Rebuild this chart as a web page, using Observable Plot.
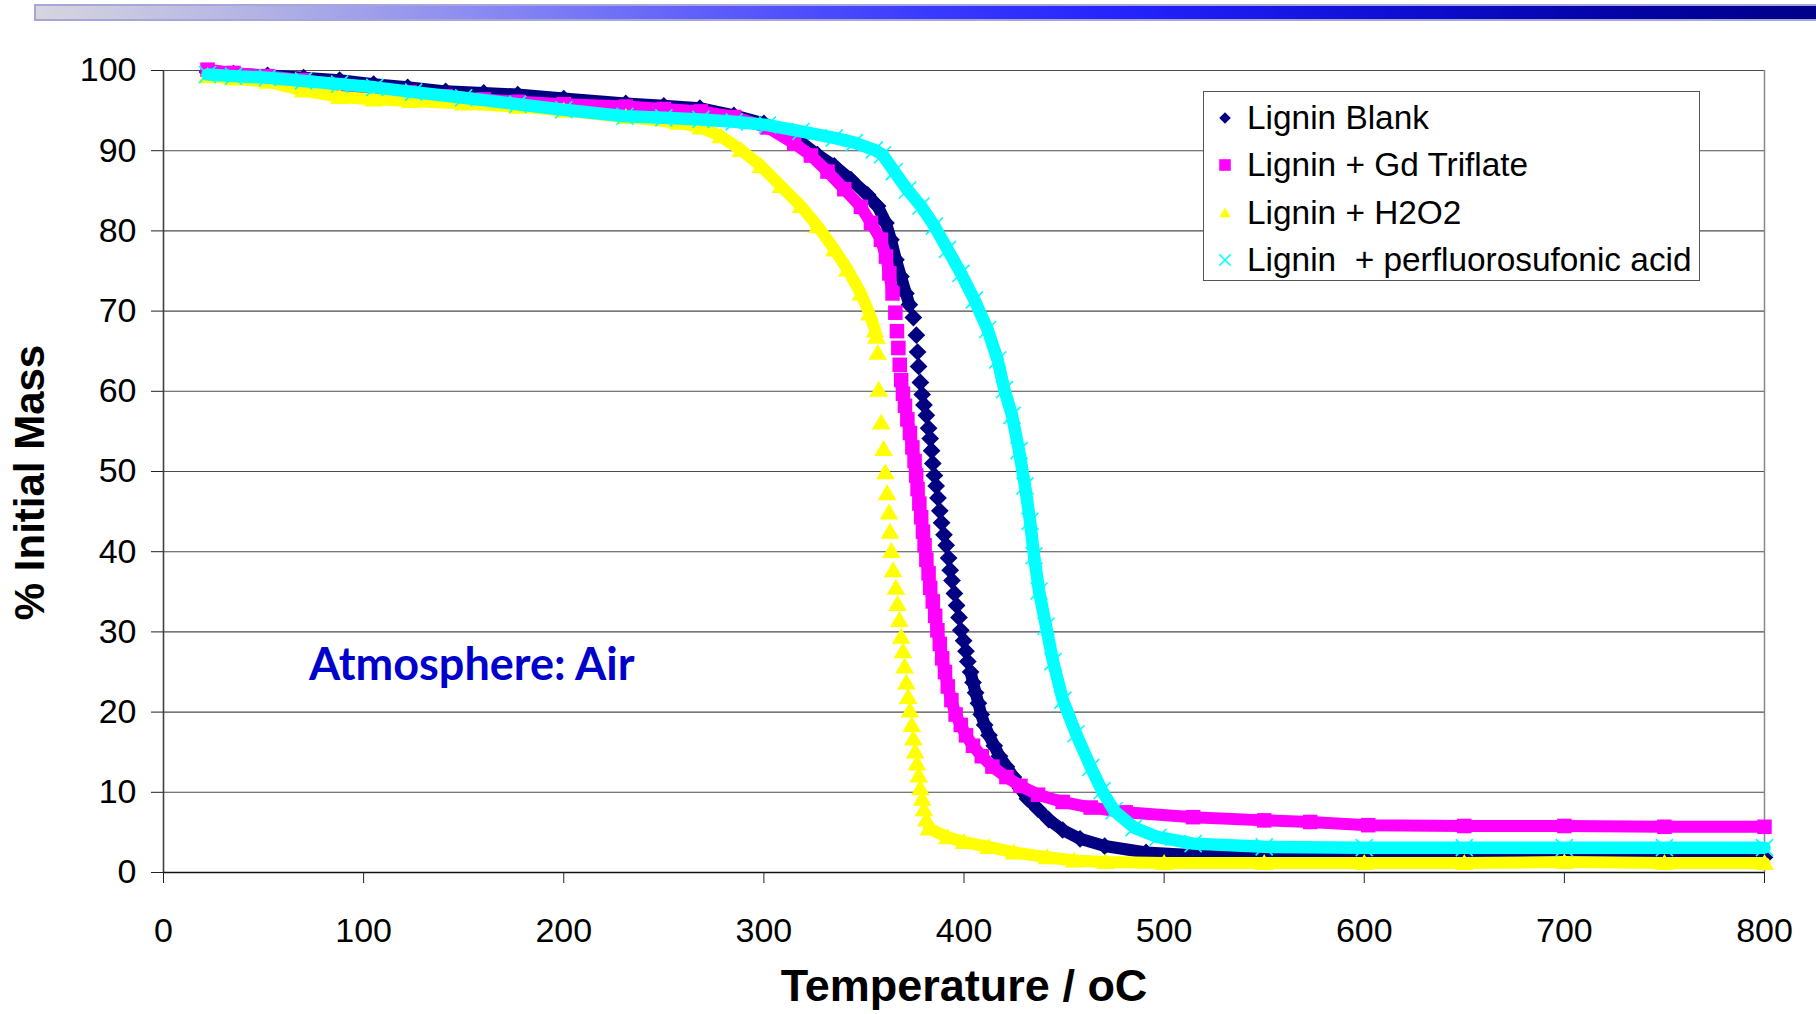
<!DOCTYPE html>
<html>
<head>
<meta charset="utf-8">
<script src="https://cdn.jsdelivr.net/npm/d3@7"></script>
<script src="https://cdn.jsdelivr.net/npm/@observablehq/plot@0.6"></script>
<style>
  html, body { margin: 0; padding: 0; background: #fff; }
  #wrap { position: relative; width: 1816px; height: 1014px; overflow: hidden; font-family: "Liberation Sans", Arial, sans-serif; }
  #bar { position: absolute; left: 34px; right: 0; top: 4px; height: 13px;
         border: 2px solid #a6a6da; border-right: none;
         background: linear-gradient(to right, #d6d6de 0%, #b4b4e4 12%, #8a8af2 25%, #6060fa 37%, #3a3aff 50%, #2222fa 62%, #1010d8 75%, #0404a8 88%, #000088 100%); }
  #legend { position: absolute; left: 1203px; top: 91px; width: 495px; height: 188px; border: 1px solid #555; background: #fff; }
  .row { position: absolute; left: 0; width: 495px; height: 47.3px; line-height: 47.3px; font-size: 33.4px; white-space: pre; color: #000; }
  .row svg { position: absolute; left: 7px; top: 10px; }
  .row span { position: absolute; left: 43px; top: 0; }
</style>
</head>
<body>
<div id="wrap">
  <div id="chart"></div>
  <div id="bar"></div>
  <div id="legend"></div>
</div>
<script>
// ---------------- data ----------------
const xTicks = [0, 100, 200, 300, 400, 500, 600, 700, 800];
const yTicks = [0, 10, 20, 30, 40, 50, 60, 70, 80, 90, 100];
const seriesNames = ["Lignin Blank", "Lignin + Gd Triflate", "Lignin + H2O2", "Lignin  + perfluorosufonic acid"];
const xTitle = "Temperature / oC";
const yTitle = "% Initial Mass";
const annotation = [{text: "Atmosphere: Air", T: 154, M: 24}];

// Lignin Blank  [temperature °C, % initial mass]
const blankHead = [[22,99.8],[35,99.6],[52,99.4],[70,99.1],[88,98.8],[105,98.3],[122,97.9],[141,97.4],[160,97.2],[177,97.0],[200,96.5],[231,95.9],[250,95.6],[268,95.3],[285,94.4],[300,93.4],[310,92.4],[318.5,91.1],[326.8,89.5],[335.2,88.1],[343.5,86.4],[351.8,84.5],[356.8,83.1],[361,81.0],[363.5,78.9],[366,76.4],[368.5,74.3],[371,72.2],[372.7,70.8]];
const blankDrop = [[374.7,69.2],[376.2,67.0],[376.8,64.9],[377.3,63.1],[378.2,61.1],[379.1,59.6],[380,58.3],[381.2,57.0],[382.3,55.4],[383.1,54.1],[383.8,52.6],[384.4,51.0],[385.2,49.5],[386.1,48.2],[387,46.7],[387.9,45.1],[388.8,43.6],[390,42.1],[391.1,40.8],[392.3,39.2],[393.1,37.7],[394,36.4],[395.2,34.8],[396.3,33.3],[397.5,31.8],[398.4,30.2],[399.8,28.9],[401,27.6],[401.9,26.3]];
const blankTail = [[403.3,25.0],[404.5,23.7],[405.8,22.4],[407.2,21.1],[408.6,19.7],[410.3,18.4],[412.5,17.1],[415.1,15.8],[417.7,14.5],[421.2,13.2],[424.7,11.9],[428.2,10.5],[431.7,9.2],[437,7.9],[442.3,6.6],[449.3,5.3],[458,4.2],[470.3,3.3],[491,2.5],[520,2.1],[560,2.0],[600,2.0],[650,2.0],[700,2.0],[750,2.0],[800,1.9]];

// Lignin + Gd Triflate
const gdHead = [[22,100.1],[35,99.7],[52,99.3],[70,98.8],[88,98.2],[105,97.7],[123,97.3],[141,96.8],[160,96.4],[177,96.1],[200,95.8],[231,95.5],[250,95.2],[268.5,94.9],[285.2,94.2],[301.8,92.9],[315.2,90.9],[323.5,89.4],[331.8,87.4],[340.2,85.2],[348.5,83.0],[353.5,81.0],[358.5,78.9],[361,76.8],[362.7,74.7],[364.3,72.2]];
const gdDrop = [[365.7,69.8],[366.5,67.5],[367.2,65.4],[367.9,63.3],[368.6,61.4],[369.5,59.7],[370.5,58.2]];
const gdTail = [[371.7,56.5],[373,54.8],[374.2,53.0],[375.3,51.3],[376.1,49.5],[376.8,47.8],[377.7,46.0],[378.6,44.3],[379.5,42.5],[380.3,40.8],[381.2,39.0],[382.3,37.3],[383.1,35.5],[384.4,33.8],[385.6,32.0],[386.7,30.2],[387.9,28.5],[389.1,26.7],[390.5,25.0],[391.9,23.2],[393.7,21.5],[395.8,19.7],[398.4,18.4],[401,17.1],[404.5,15.8],[408.9,14.5],[414.2,13.2],[421.2,11.9],[428.2,10.8],[437,9.7],[449.3,8.8],[463.3,8.1],[480.8,7.5],[514.5,6.9],[550,6.5],[573,6.3],[602,5.9],[650,5.8],[700,5.8],[750,5.7],[800,5.7]];

// Lignin + H2O2
const h2o2Head = [[22,99.3],[35,99.0],[52,98.6],[70,97.5],[88,96.7],[105,96.4],[123.5,96.2],[150,95.9],[177,95.5],[200,95.0],[231,94.2],[257,93.5],[268.5,92.9],[278.5,91.8],[288.5,90.1],[298.5,88.1],[308.5,85.6],[318.5,83.1],[326.8,80.6],[335.2,77.7],[341.8,75.2],[348.5,72.2],[352.7,69.7],[355.6,67.6]];
const h2o2Drop = [[356.3,66.8],[356.9,64.8],[357.4,60.2],[358.6,56.1],[359.8,52.8],[360.7,49.9],[361.6,47.3],[362.5,44.9],[363,42.5],[363.7,40.1],[364.6,37.7],[366,35.5],[366.8,33.5],[367.7,31.5],[368.6,29.4],[369.5,27.6],[370.3,25.7],[371.2,23.7],[372.1,21.9],[373,20.2],[373.9,18.4],[374.7,16.7],[375.6,15.1],[376.5,13.6],[377.4,12.1],[378.2,10.5],[379.1,9.2],[380,7.9],[381.2,6.6]];
const h2o2Tail = [[382.5,5.5],[391.8,4.4],[400,3.8],[412.3,3.2],[425,2.5],[441.5,1.9],[455,1.5],[470.7,1.3],[500,1.2],[550,1.2],[600,1.2],[650,1.2],[700,1.3],[750,1.2],[800,1.2]];

// Lignin + perfluorosulfonic acid
const pfsaCurve = [[22,99.5],[35,99.3],[52,99.1],[70,98.7],[88,98.3],[105.6,97.9],[125,97.3],[150,96.6],[177,95.8],[200,95.1],[230.6,94.3],[250,94.1],[268.5,93.9],[285.2,93.6],[301.8,93.2],[318.5,92.4],[335.2,91.6],[345.2,91.0],[355.2,90.1],[359.3,89.5],[365.2,87.4],[371.8,85.1],[378.5,83.1],[385.2,80.6],[391.8,77.7],[398.5,74.7],[405.2,71.4],[411.8,67.7],[416.8,63.9],[420.2,60.2],[424,57.0],[427.5,52.6],[430.5,48.2],[433,43.8],[435,39.5],[437.5,35.1],[441,30.7],[444.5,26.3],[449.4,21.5],[456,17.3],[463.4,13.1],[469,10.2],[475,7.7],[485,5.6],[497,4.4],[514.5,3.6],[550,3.2],[600,3.1],[650,3.1],[700,3.1],[750,3.1],[800,3.1]];

// ---------------- marker shapes (half width = sqrt(size)) ----------------
const sym = {
  diamond: {draw(c, s) { const r = Math.sqrt(s); c.moveTo(0, -r); c.lineTo(r, 0); c.lineTo(0, r); c.lineTo(-r, 0); c.closePath(); }},
  square:  {draw(c, s) { const r = Math.sqrt(s); c.rect(-r, -r, 2 * r, 2 * r); }},
  triangle:{draw(c, s) { const r = Math.sqrt(s); c.moveTo(0, -r * 0.95); c.lineTo(r, r * 0.75); c.lineTo(-r, r * 0.75); c.closePath(); }},
  times:   {draw(c, s) { const r = Math.sqrt(s); c.moveTo(-r, -r); c.lineTo(r, r); c.moveTo(r, -r); c.lineTo(-r, r); }}
};

const series = [
  {name: seriesNames[0], color: "#000080", symbol: sym.diamond,  r: 5.0, filled: true,  lw: 12,   bands: [blankHead, blankTail], points: [blankHead, blankDrop, blankTail]},
  {name: seriesNames[1], color: "#FF00FF", symbol: sym.square,   r: 4.1, filled: true,  lw: 12,   bands: [gdHead, gdTail],       points: [gdHead, gdDrop, gdTail]},
  {name: seriesNames[2], color: "#FFFF00", symbol: sym.triangle, r: 5.3, filled: true,  lw: 12,   bands: [h2o2Head, h2o2Tail],   points: [h2o2Head, h2o2Drop, h2o2Tail]},
  {name: seriesNames[3], color: "#00FFFF", symbol: sym.times,    r: 4.8, filled: false, lw: 12.5, bands: [pfsaCurve],            points: [pfsaCurve]}
];

const X = d => d[0], Y = d => d[1];
const marks = [
  Plot.ruleY(yTicks.filter(d => d > 0), {stroke: "#4d4d4d", strokeWidth: 1.1}),
  Plot.ruleX([800], {stroke: "#888", strokeWidth: 1.5})
];
for (const s of series) {
  for (const band of s.bands) {
    marks.push(Plot.line(band, {x: X, y: Y, stroke: s.color, strokeWidth: s.lw, strokeLinejoin: "round", strokeLinecap: "round"}));
  }
  marks.push(Plot.dot(s.points.flat(), {
    x: X, y: Y, symbol: s.symbol, r: s.r,
    fill: s.filled ? s.color : "none",
    stroke: s.filled ? "none" : s.color,
    strokeWidth: s.filled ? 0 : 1.6
  }));
}
marks.push(
  Plot.ruleX([0], {stroke: "#404040", strokeWidth: 1.6}),
  Plot.ruleY([0], {stroke: "#111", strokeWidth: 1.6}),
  Plot.axisX({ticks: xTicks, tickSize: 11, tickPadding: 34, label: null, tickFormat: d => String(d), stroke: "#222"}),
  Plot.axisY({ticks: yTicks, tickSize: 12, tickPadding: 15, label: null, tickFormat: d => String(d), stroke: "#222"}),
  Plot.text([xTitle], {frameAnchor: "bottom", textAnchor: "middle", dy: 128, lineAnchor: "bottom", fontSize: 45, fontWeight: "bold", text: d => d}),
  Plot.text([yTitle], {frameAnchor: "left", textAnchor: "middle", dx: -120, dy: 11, rotate: -90, lineAnchor: "bottom", fontSize: 42, fontWeight: "bold", text: d => d}),
  Plot.text(annotation, {x: "T", y: "M", text: "text", textAnchor: "middle", lineAnchor: "bottom", fontFamily: "Lato, 'Open Sans', sans-serif", fontWeight: "bold", fontSize: 45, fill: "#0000CC"})
);

const chart = Plot.plot({
  width: 1816,
  height: 1014,
  marginLeft: 163,
  marginRight: 52,
  marginTop: 70,
  marginBottom: 142,
  x: {domain: [0, 800], label: null},
  y: {domain: [0, 100], label: null},
  style: {fontFamily: "'Liberation Sans', Arial, sans-serif", fontSize: "34px", color: "#000", background: "#fff"},
  marks
});
document.getElementById("chart").appendChild(chart);

// ---------------- legend ----------------
const legend = document.getElementById("legend");
series.forEach((s, i) => {
  const row = document.createElement("div");
  row.className = "row";
  row.style.top = (2 + i * 47.3) + "px";
  const svg = d3.create("svg").attr("width", 28).attr("height", 28);
  svg.append("path")
    .attr("transform", "translate(14,14)")
    .attr("d", d3.symbol(s.symbol, 5.8 * 5.8)())
    .attr("fill", s.filled ? s.color : "none")
    .attr("stroke", s.filled ? "none" : s.color)
    .attr("stroke-width", 1.5);
  row.appendChild(svg.node());
  const span = document.createElement("span");
  span.textContent = s.name;
  row.appendChild(span);
  legend.appendChild(row);
});
</script>
</body>
</html>
